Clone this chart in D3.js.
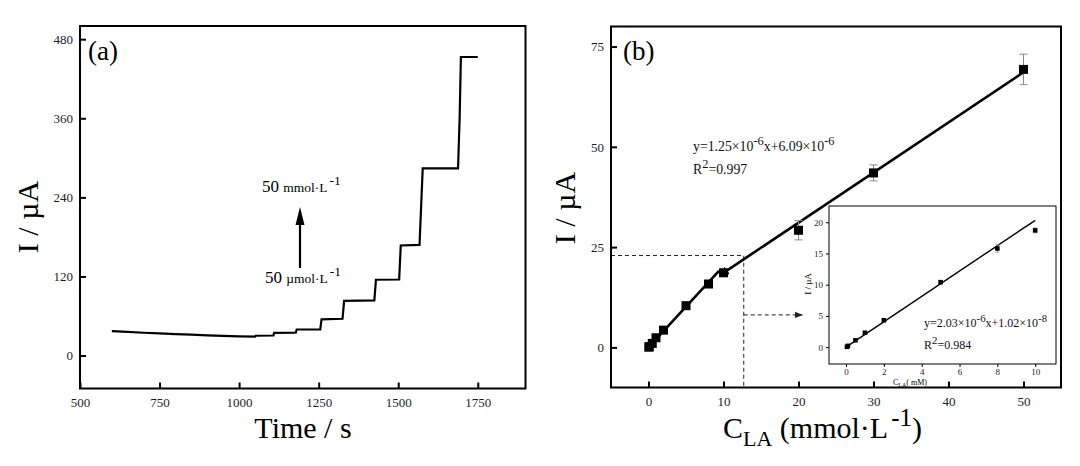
<!DOCTYPE html>
<html>
<head>
<meta charset="utf-8">
<script src="https://cdn.jsdelivr.net/npm/d3@7/dist/d3.min.js"></script>
<style>
  body { margin: 0; background: #fff; }
  svg { display: block; font-family: "Liberation Serif", "DejaVu Serif", serif; }
  .tick text { fill: #1c1c28; }
</style>
</head>
<body>
<div id="chart"></div>
<script>
// panel (a): amperometric response
const timeS = [600, 650, 700, 750, 800, 850, 900, 950, 1000, 1050, 1052, 1108, 1110, 1178, 1181, 1255, 1259, 1325, 1330, 1425, 1430, 1503, 1508, 1567, 1577, 1688, 1693, 1697, 1750]
const currentA = [37, 35.8, 34.6, 33.6, 32.6, 31.6, 30.6, 29.8, 29.2, 28.6, 30, 30.4, 34.3, 34.6, 39.5, 39.6, 55, 55.8, 83, 83.6, 115, 115.4, 167, 168, 284, 284, 360, 453, 453]
const ticksA_x = [500, 750, 1000, 1250, 1500, 1750]
const ticksA_y = [0, 120, 240, 360, 480]

// panel (b): calibration
const concB = [0.05, 0.1, 0.5, 1, 2, 5, 8, 10, 20, 30, 50]
const currentB = [0.05, 0.2, 1.0, 2.4, 4.3, 10.4, 15.8, 18.6, 29.2, 43.5, 69.3]
const errorB = [0.1, 0.1, 0.2, 0.2, 0.3, 0.4, 0.5, 0.8, 2.4, 2.0, 3.8]
const ticksB_x = [0, 10, 20, 30, 40, 50]
const ticksB_y = [0, 25, 50, 75]

// inset: low concentration range
const concInset = [0.05, 0.1, 0.5, 1, 2, 5, 8, 10]
const currentInset = [0.05, 0.2, 1.1, 2.3, 4.3, 10.4, 15.8, 18.7]
const errorInset = [0.1, 0.1, 0.1, 0.15, 0.2, 0.2, 0.6, 0.4]
const ticksInset_x = [0, 2, 4, 6, 8, 10]
const ticksInset_y = [0, 5, 10, 15, 20]

// fitted lines (µA vs mmol/L)
const fitLow = { slope: 2.03, intercept: 0.01 }
const fitHigh = { slope: 1.25, intercept: 6.09 }

const svg = d3.select("#chart").append("svg")
    .attr("width", 1080)
    .attr("height", 466)

const defs = svg.append("defs")
defs.append("marker")
    .attr("id", "dashArrow")
    .attr("viewBox", "0 0 10 10")
    .attr("refX", 9).attr("refY", 5)
    .attr("markerWidth", 8).attr("markerHeight", 8)
    .attr("markerUnits", "userSpaceOnUse")
    .attr("orient", "auto")
    .append("path").attr("d", "M0,1 L10,5 L0,9 Z").attr("fill", "#222")
defs.append("marker")
    .attr("id", "fitArrow")
    .attr("viewBox", "0 0 10 10")
    .attr("refX", 9).attr("refY", 5)
    .attr("markerWidth", 9).attr("markerHeight", 9)
    .attr("markerUnits", "userSpaceOnUse")
    .attr("orient", "auto-start-reverse")
    .append("path").attr("d", "M0,0 L10,5 L0,10 Z").attr("fill", "#000")

function frame(g, x, y, w) {
    g.append("rect")
        .attr("x", x.range()[0]).attr("y", y.range()[1])
        .attr("width", x.range()[1] - x.range()[0])
        .attr("height", y.range()[0] - y.range()[1])
        .attr("fill", "none").attr("stroke", "#000").attr("stroke-width", w)
}

function styleAxis(a, size, w) {
    a.select(".domain").remove()
    a.selectAll(".tick line").attr("stroke", "#000").attr("stroke-width", w)
    a.selectAll(".tick text").attr("font-size", size).attr("font-family", "Liberation Serif")
}

// ---------- panel (a) ----------
const xA = d3.scaleLinear().domain([500, 1900]).range([80, 525.5])
const yA = d3.scaleLinear().domain([-50, 500]).range([388.5, 26])
const gA = svg.append("g")

gA.append("g")
    .attr("transform", "translate(0," + yA.range()[0] + ")")
    .call(d3.axisBottom(xA).tickValues(ticksA_x).tickFormat(d3.format("d")).tickSize(-6).tickPadding(9))
    .call(a => styleAxis(a, 13, 2))
gA.append("g")
    .attr("transform", "translate(" + xA.range()[0] + ",0)")
    .call(d3.axisLeft(yA).tickValues(ticksA_y).tickSize(-6).tickPadding(7))
    .call(a => styleAxis(a, 13, 2))

gA.append("path")
    .datum(timeS.map((t, i) => [t, currentA[i]]))
    .attr("fill", "none")
    .attr("stroke", "#000")
    .attr("stroke-width", 2.2)
    .attr("stroke-linejoin", "miter")
    .attr("d", d3.line().x(d => xA(d[0])).y(d => yA(d[1])))

frame(gA, xA, yA, 2)

gA.append("text").attr("x", 88).attr("y", 60).attr("font-size", 27).text("(a)")

// arrow annotation
gA.append("line")
    .attr("x1", 300).attr("x2", 300).attr("y1", 268).attr("y2", 222)
    .attr("stroke", "#000").attr("stroke-width", 2.2)
gA.append("path")
    .attr("d", "M300,207 L295.5,225 L304.5,225 Z").attr("fill", "#000")

function concLabel(g, x, y, unit) {
    const t = g.append("text").attr("x", x).attr("y", y)
    t.append("tspan").attr("font-size", 17).text("50 ")
    t.append("tspan").attr("font-size", 13.5).text(unit)
    t.append("tspan").attr("font-size", 13.5).attr("dy", -7).attr("dx", 2).text("-1")
}
concLabel(gA, 262, 192, "mmol·L")
concLabel(gA, 265, 283, "µmol·L")

gA.append("text")
    .attr("x", 303).attr("y", 438)
    .attr("text-anchor", "middle").attr("font-size", 30)
    .text("Time / s")
gA.append("text")
    .attr("transform", "translate(38,217) rotate(-90)")
    .attr("text-anchor", "middle").attr("font-size", 30)
    .text("I / µA")

// ---------- panel (b) ----------
const xB = d3.scaleLinear().domain([-5, 55]).range([611, 1061])
const yB = d3.scaleLinear().domain([-10, 80]).range([387.5, 26.5])
const gB = svg.append("g")

gB.append("g")
    .attr("transform", "translate(0," + yB.range()[0] + ")")
    .call(d3.axisBottom(xB).tickValues(ticksB_x).tickSize(-6).tickPadding(9))
    .call(a => styleAxis(a, 13, 2))
gB.append("g")
    .attr("transform", "translate(" + xB.range()[0] + ",0)")
    .call(d3.axisLeft(yB).tickValues(ticksB_y).tickSize(-6).tickPadding(7))
    .call(a => styleAxis(a, 13, 2))

// dashed guides to the inset
const guideX = 12.7, guideY = 22.9, arrowY = 8.1, arrowEnd = 20.5
gB.append("path")
    .attr("d", d3.line()([[xB(-5), yB(guideY)], [xB(guideX), yB(guideY)], [xB(guideX), yB(-10)]]))
    .attr("fill", "none").attr("stroke", "#222").attr("stroke-width", 1)
    .attr("stroke-dasharray", "4,3")
gB.append("line")
    .attr("x1", xB(guideX)).attr("x2", xB(arrowEnd))
    .attr("y1", yB(arrowY)).attr("y2", yB(arrowY))
    .attr("stroke", "#222").attr("stroke-width", 1)
    .attr("stroke-dasharray", "4,3")
    .attr("marker-end", "url(#dashArrow)")

// fit lines
const fitPath = (f, a, b) => d3.line()([a, b].map(c => [xB(c), yB(f.slope * c + f.intercept)]))
gB.append("path").attr("d", fitPath(fitLow, 0, 9.4))
    .attr("stroke", "#000").attr("stroke-width", 2.6).attr("fill", "none")
gB.append("path").attr("d", fitPath(fitHigh, 9.6, 50.2))
    .attr("stroke", "#000").attr("stroke-width", 2.6).attr("fill", "none")
    .attr("marker-start", "url(#fitArrow)")

// error bars
const errB = gB.append("g").attr("stroke", "#8a8a8a").attr("stroke-width", 1)
concB.forEach((c, i) => {
    const x = xB(c), lo = yB(currentB[i] - errorB[i]), hi = yB(currentB[i] + errorB[i])
    errB.append("line").attr("x1", x).attr("x2", x).attr("y1", lo).attr("y2", hi)
    errB.append("line").attr("x1", x - 4).attr("x2", x + 4).attr("y1", lo).attr("y2", lo)
    errB.append("line").attr("x1", x - 4).attr("x2", x + 4).attr("y1", hi).attr("y2", hi)
})

gB.append("g").selectAll("rect")
    .data(concB.map((c, i) => [c, currentB[i]]))
    .enter().append("rect")
    .attr("x", d => xB(d[0]) - 4.5)
    .attr("y", d => yB(d[1]) - 4.5)
    .attr("width", 9).attr("height", 9)
    .attr("fill", "#000")

frame(gB, xB, yB, 2)

gB.append("text").attr("x", 623).attr("y", 60).attr("font-size", 27).text("(b)")

function eqText(g, x, y, size, parts) {
    const t = g.append("text").attr("x", x).attr("y", y).attr("font-size", size).attr("fill", "#111")
    parts.forEach(p => {
        const s = t.append("tspan").text(p[0])
        if (p[1] === "sup") s.attr("dy", -size * 0.42).attr("font-size", size * 0.9)
        if (p[1] === "base") s.attr("dy", size * 0.42)
    })
}
eqText(gB, 693, 151, 13.8, [["y=1.25×10"], ["-6", "sup"], ["x+6.09×10", "base"], ["-6", "sup"]])
eqText(gB, 693, 174, 13.8, [["R"], ["2", "sup"], ["=0.997", "base"]])

const titleB = gB.append("text").attr("x", 723).attr("y", 438).attr("font-size", 30)
titleB.append("tspan").text("C")
titleB.append("tspan").attr("font-size", 22).attr("dy", 8).text("LA")
titleB.append("tspan").attr("dy", -8).text(" (mmol·L")
titleB.append("tspan").attr("font-size", 25).attr("dy", -12).attr("dx", 3).text("-1")
titleB.append("tspan").attr("dy", 12).text(")")

gB.append("text")
    .attr("transform", "translate(575,208) rotate(-90)")
    .attr("text-anchor", "middle").attr("font-size", 30)
    .text("I / µA")

// ---------- inset ----------
const xI = d3.scaleLinear().domain([-0.9, 11.1]).range([829, 1056])
const yI = d3.scaleLinear().domain([-2.7, 22.6]).range([364, 206])
const gI = svg.append("g")

gI.append("rect")
    .attr("x", 829).attr("y", 206).attr("width", 1056 - 829).attr("height", 364 - 206)
    .attr("fill", "#fff")

gI.append("g")
    .attr("transform", "translate(0," + yI.range()[0] + ")")
    .call(d3.axisBottom(xI).tickValues(ticksInset_x).tickSize(3).tickPadding(2))
    .call(a => styleAxis(a, 9, 1))
gI.append("g")
    .attr("transform", "translate(" + xI.range()[0] + ",0)")
    .call(d3.axisLeft(yI).tickValues(ticksInset_y).tickSize(3).tickPadding(3))
    .call(a => styleAxis(a, 9, 1))

gI.append("path")
    .attr("d", d3.line()([0, 10].map(c => [xI(c), yI(fitLow.slope * c + fitLow.intercept)])))
    .attr("stroke", "#000").attr("stroke-width", 1.4).attr("fill", "none")

const errI = gI.append("g").attr("stroke", "#999").attr("stroke-width", 0.8)
concInset.forEach((c, i) => {
    const x = xI(c), lo = yI(currentInset[i] - errorInset[i]), hi = yI(currentInset[i] + errorInset[i])
    errI.append("line").attr("x1", x).attr("x2", x).attr("y1", lo).attr("y2", hi)
    errI.append("line").attr("x1", x - 2).attr("x2", x + 2).attr("y1", lo).attr("y2", lo)
    errI.append("line").attr("x1", x - 2).attr("x2", x + 2).attr("y1", hi).attr("y2", hi)
})

gI.append("g").selectAll("rect")
    .data(concInset.map((c, i) => [c, currentInset[i]]))
    .enter().append("rect")
    .attr("x", d => xI(d[0]) - 2.3)
    .attr("y", d => yI(d[1]) - 2.3)
    .attr("width", 4.6).attr("height", 4.6)
    .attr("fill", "#000")

frame(gI, xI, yI, 1)

eqText(gI, 924, 327, 12, [["y=2.03×10"], ["-6", "sup"], ["x+1.02×10", "base"], ["-8", "sup"]])
eqText(gI, 924, 349, 12, [["R"], ["2", "sup"], ["=0.984", "base"]])

const titleI = gI.append("text").attr("x", 910).attr("y", 385).attr("font-size", 8).attr("text-anchor", "middle")
titleI.append("tspan").text("C")
titleI.append("tspan").attr("font-size", 6).attr("dy", 2).text("LA")
titleI.append("tspan").attr("dy", -2).text("( mM)")

gI.append("text")
    .attr("transform", "translate(811,284) rotate(-90)")
    .attr("text-anchor", "middle").attr("font-size", 9)
    .text("I / µA")
</script>
</body>
</html>
